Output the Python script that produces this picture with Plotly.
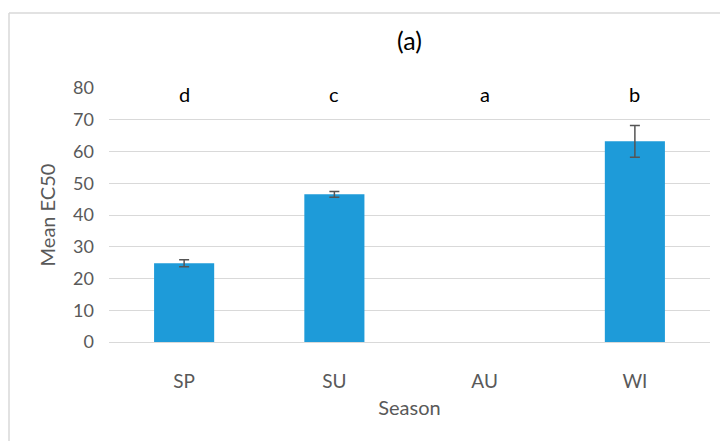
import plotly.graph_objects as go

seasons = ["SP", "SU", "AU", "WI"]
mean_ec50 = [24.8, 46.5, None, 63.2]
err = [1.1, 0.9, None, 5.0]
letters = ["d", "c", "a", "b"]
yticks = [0, 10, 20, 30, 40, 50, 60, 70, 80]

FONT = "Lato, 'Open Sans', sans-serif"
GRAY = "#595959"

L, R, T, B = 109, 10, 88, 99
pw = 720 - L - R
ph = 441 - T - B

fig = go.Figure()
fig.add_trace(go.Bar(
    x=seasons, y=mean_ec50,
    marker=dict(color="#1E9BD9", line=dict(width=0)),
    width=0.4,
    error_y=dict(type="data", array=err, visible=True, color="#555555", thickness=1.5, width=5),
))
for s, l in zip(seasons, letters):
    fig.add_annotation(x=s, y=78, text=l, showarrow=False, yanchor="middle",
                       font=dict(family=FONT, size=20, color="#000000"))

bx0 = (9 - L) / pw
by1 = (441 - B - 13) / ph
fig.add_shape(type="line", xref="paper", yref="paper", x0=bx0, x1=(725 - L) / pw, y0=by1, y1=by1,
              line=dict(color="#D9D9D9", width=1.5), layer="below")
fig.add_shape(type="line", xref="paper", yref="paper", x0=bx0, x1=bx0, y0=-B / ph - 0.05, y1=by1,
              line=dict(color="#D9D9D9", width=1.5), layer="below")

fig.update_layout(
    width=720, height=441,
    margin=dict(l=L, r=R, t=T, b=B),
    paper_bgcolor="white", plot_bgcolor="white",
    showlegend=False,
    font=dict(family=FONT, size=18, color=GRAY),
    title=dict(text="(a)", x=0.5, xref="paper", y=1 - 41 / 441, yanchor="middle",
               font=dict(family=FONT, size=25, color="#000000")),
)
fig.update_xaxes(categoryorder="array", categoryarray=seasons)
fig.update_yaxes(range=[0, 80], tickvals=yticks, showgrid=True, gridcolor="#D9D9D9", gridwidth=1,
                 zeroline=False, showline=False, ticklabelstandoff=14,
                 title=dict(text="Mean EC50", font=dict(family=FONT, size=20, color=GRAY), standoff=12),
                 tickfont=dict(family=FONT, size=18, color=GRAY))
fig.update_xaxes(showline=True, linecolor="#D9D9D9", linewidth=1, ticks="", ticklabelstandoff=22,
                 title=dict(text="Season", font=dict(family=FONT, size=20, color=GRAY), standoff=10),
                 tickfont=dict(family=FONT, size=19, color=GRAY))

fig.write_html("out.html", config={"displayModeBar": False},
               post_script="document.body.style.margin='0';document.body.style.overflow='hidden';")
